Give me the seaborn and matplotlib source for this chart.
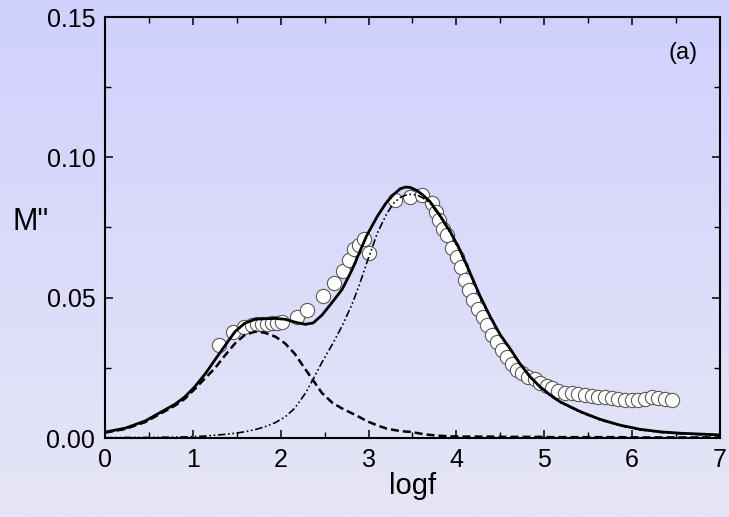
import numpy as np
import pandas as pd
import matplotlib
matplotlib.use("Agg")
import matplotlib.pyplot as plt
import seaborn as sns
from matplotlib.colors import LinearSegmentedColormap
from matplotlib.ticker import MultipleLocator, FormatStrFormatter

# ---------------- data ----------------
obs_logf = [1.30, 1.46, 1.58, 1.67, 1.73, 1.79, 1.84, 1.90, 1.96, 2.02,
            2.19, 2.30, 2.48, 2.61, 2.71, 2.78, 2.83, 2.89, 2.95, 3.00,
            3.30, 3.47, 3.61, 3.72, 3.77, 3.80, 3.85, 3.89, 3.95, 4.01,
            4.05, 4.10, 4.14, 4.19, 4.25, 4.30, 4.35, 4.41, 4.46, 4.52,
            4.58, 4.63, 4.69, 4.75, 4.81, 4.89, 4.95, 5.03, 5.09, 5.16,
            5.24, 5.32, 5.38, 5.46, 5.54, 5.61, 5.69, 5.77, 5.84, 5.92,
            6.00, 6.07, 6.15, 6.23, 6.29, 6.37, 6.45]
obs_M = [0.0331, 0.0378, 0.0395, 0.0403, 0.0406, 0.0406, 0.0406, 0.0410, 0.0410, 0.0413,
         0.0431, 0.0456, 0.0506, 0.0552, 0.0595, 0.0634, 0.0673, 0.0688, 0.0709, 0.0659,
         0.0848, 0.0859, 0.0866, 0.0837, 0.0805, 0.0777, 0.0745, 0.0723, 0.0677, 0.0645,
         0.0609, 0.0563, 0.0527, 0.0492, 0.0460, 0.0431, 0.0403, 0.0367, 0.0342, 0.0313,
         0.0289, 0.0264, 0.0242, 0.0232, 0.0217, 0.0210, 0.0196, 0.0185, 0.0178, 0.0167,
         0.0160, 0.0160, 0.0157, 0.0153, 0.0150, 0.0146, 0.0146, 0.0143, 0.0139, 0.0135,
         0.0135, 0.0135, 0.0139, 0.0146, 0.0143, 0.0139, 0.0135]

fit_logf = [0.00, 0.23, 0.46, 0.68, 0.80, 0.91, 1.02, 1.14, 1.25, 1.37, 1.48, 1.59,
            1.71, 1.82, 1.94, 2.05, 2.16, 2.28, 2.37, 2.47, 2.59, 2.70,
            2.81, 2.90, 2.98, 3.10, 3.20, 3.28, 3.36, 3.42, 3.47, 3.55,
            3.62, 3.70, 3.81, 3.93, 4.04, 4.15, 4.27, 4.38, 4.50, 4.61,
            4.72, 4.84, 4.95, 5.07, 5.18, 5.41, 5.63, 5.86, 6.09, 6.32,
            6.55, 7.00]
fit_total = [0.0021, 0.0035, 0.0061, 0.0100, 0.0121, 0.0147, 0.0182, 0.0228, 0.0278, 0.0331, 0.0379, 0.0409,
             0.0423, 0.0425, 0.0426, 0.0423, 0.0413, 0.0405, 0.0410, 0.0438, 0.0485, 0.0530,
             0.0598, 0.0664, 0.0722, 0.0790, 0.0838, 0.0866, 0.0888, 0.0894, 0.0893, 0.0882,
             0.0865, 0.0842, 0.0794, 0.0735, 0.0670, 0.0592, 0.0505, 0.0435, 0.0367, 0.0319,
             0.0266, 0.0218, 0.0183, 0.0153, 0.0129, 0.0094, 0.0067, 0.0046, 0.0031, 0.0022,
             0.0017, 0.0011]
fit_low = [0.0019, 0.0032, 0.0057, 0.0095, 0.0116, 0.0140, 0.0174, 0.0213, 0.0248, 0.0296, 0.0337, 0.0367,
           0.0379, 0.0375, 0.0361, 0.0337, 0.0300, 0.0245, 0.0205, 0.0160, 0.0125, 0.0105,
           0.0088, 0.0074, 0.0060, 0.0045, 0.0034, 0.0029, 0.0025, 0.0023, 0.0022, 0.0018,
           0.0014, 0.0011, 0.0008, 0.0006, 0.0005, 0.0005, 0.0005, 0.0005, 0.0004, 0.0004,
           0.0004, 0.0004, 0.0004, 0.0003, 0.0003, 0.0003, 0.0003, 0.0003, 0.0002, 0.0002,
           0.0002, 0.0002]
fit_high = [0.0001, 0.0002, 0.0002, 0.0003, 0.0003, 0.0004, 0.0005, 0.0007, 0.0010, 0.0013, 0.0017, 0.0022,
            0.0030, 0.0040, 0.0055, 0.0075, 0.0106, 0.0159, 0.0210, 0.0270, 0.0335, 0.0400,
            0.0475, 0.0550, 0.0625, 0.0730, 0.0795, 0.0835, 0.0857, 0.0865, 0.0868, 0.0866,
            0.0855, 0.0836, 0.0790, 0.0730, 0.0665, 0.0588, 0.0502, 0.0431, 0.0364, 0.0316,
            0.0263, 0.0215, 0.0180, 0.0150, 0.0127, 0.0092, 0.0065, 0.0044, 0.0029, 0.0020,
            0.0015, 0.0009]

x_ticks = [0, 1, 2, 3, 4, 5, 6, 7]
y_ticks = [0.00, 0.05, 0.10, 0.15]
panel_label = "(a)"

# ---------------- style ----------------
sns.set_theme(style="ticks")
plt.rcParams['font.family'] = ['Liberation Sans', 'DejaVu Sans']
plt.rcParams['text.color'] = 'black'
plt.rcParams['axes.labelcolor'] = 'black'

fig = plt.figure(figsize=(7.29, 5.17), dpi=100)

# gradient background
bg = fig.add_axes([0, 0, 1, 1], zorder=-10)
cmap = LinearSegmentedColormap.from_list("bg", ["#d0d0fe", "#e6e6f6"])
bg.imshow(np.linspace(0, 1, 256).reshape(-1, 1), aspect="auto", cmap=cmap,
          extent=[0, 1, 0, 1])
bg.set_axis_off()

ax = fig.add_axes([105 / 729, 1 - 438 / 517, (720 - 105) / 729, (438 - 17) / 517])
ax.set_facecolor("none")

df_obs = pd.DataFrame({"logf": obs_logf, "M": obs_M})
df_fit = pd.DataFrame({"logf": fit_logf, "total": fit_total,
                       "low": fit_low, "high": fit_high})

sns.scatterplot(data=df_obs, x="logf", y="M", ax=ax, s=105, color="white",
                edgecolor="#5a5a5a", linewidth=0.8, zorder=2, legend=False)

sns.lineplot(data=df_fit, x="logf", y="low", ax=ax, color="black", lw=1.8,
             sort=False, estimator=None, zorder=3)
ax.lines[-1].set_dashes((3.2, 1.6))
sns.lineplot(data=df_fit, x="logf", y="high", ax=ax, color="black", lw=1.2,
             sort=False, estimator=None, zorder=3)
ax.lines[-1].set_dashes((4.5, 1.6, 1.0, 1.6, 1.0, 1.6))
sns.lineplot(data=df_fit, x="logf", y="total", ax=ax, color="black", lw=2.0,
             sort=False, estimator=None, zorder=4)

ax.set_xlim(0, 7)
ax.set_ylim(0, 0.15)
ax.set_xticks(x_ticks)
ax.set_yticks(y_ticks)
ax.xaxis.set_minor_locator(MultipleLocator(0.5))
ax.yaxis.set_minor_locator(MultipleLocator(0.025))
ax.yaxis.set_major_formatter(FormatStrFormatter("%.2f"))

for s in ax.spines.values():
    s.set_visible(True)
    s.set_linewidth(1.5)
    s.set_color("black")

ax.tick_params(which="both", direction="in", top=True, right=True,
               colors="black", labelsize=18, pad=7)
ax.tick_params(which="major", length=5.5, width=1.1)
ax.tick_params(which="minor", length=4, width=1.0)

ax.set_xlabel("logf", fontsize=21, labelpad=0, color="black")
ax.set_ylabel("")
fig.text(12 / 729, 1 - 222 / 517, "M\"", fontsize=22, ha="left", va="center",
         color="black")
ax.text(6.58, 0.137, panel_label, fontsize=17, ha="center", va="center",
        color="black")

fig.savefig("out.png", dpi=100)
